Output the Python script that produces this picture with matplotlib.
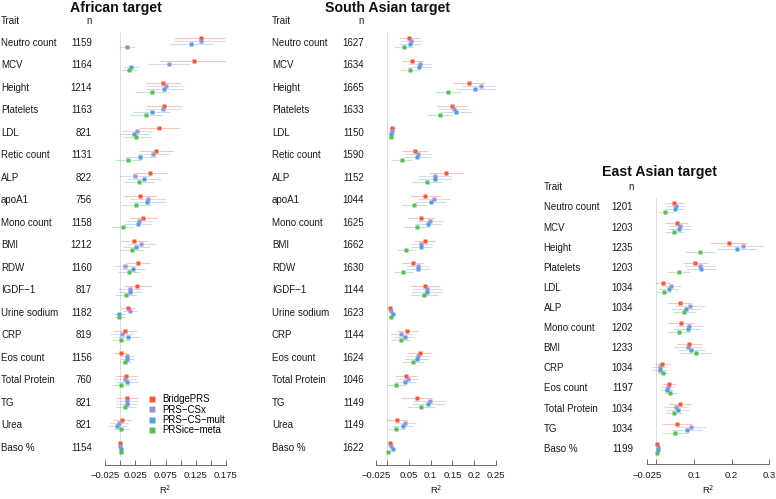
import matplotlib
matplotlib.use("Agg")
import matplotlib.pyplot as plt
from matplotlib.lines import Line2D
from matplotlib import transforms

plt.rcParams['font.family'] = ['Liberation Sans', 'DejaVu Sans']

W, H = 776, 499

methods = ["BridgePRS", "PRS\u2212CSx", "PRS\u2212CS\u2212mult", "PRSice\u2212meta"]
colors = ["#EE5A3D", "#9C93D0", "#5A9ED8", "#5CBB5C"]

# ---------------- African target ----------------
afr_traits = ["Neutro count", "MCV", "Height", "Platelets", "LDL", "Retic count", "ALP",
              "apoA1", "Mono count", "BMI", "RDW", "IGDF\u22121", "Urine sodium", "CRP",
              "Eos count", "Total Protein", "TG", "Urea", "Baso %"]
afr_n = [1159, 1164, 1214, 1163, 821, 1131, 822, 756, 1158, 1212, 1160, 817, 1182, 819,
         1156, 760, 821, 821, 1154]
afr_bridge = [0.134, 0.122, 0.071, 0.073, 0.064, 0.059, 0.0495, 0.033, 0.0385, 0.023, 0.030,
              0.0285, 0.013, 0.0087, 0.0015, 0.0098, 0.0114, 0.0026, 0.0]
afr_csx = [0.134, 0.081, 0.0755, 0.0705, 0.028, 0.055, 0.024, 0.0457, 0.031, 0.035, 0.008,
           0.016, 0.016, 0.0026, 0.012, 0.008, 0.011, -0.002, 0.0]
afr_csmult = [0.117, 0.018, 0.073, 0.052, 0.0225, 0.0335, 0.039, 0.045, 0.029, 0.027, 0.0214,
              0.016, -0.002, 0.0136, 0.011, 0.0114, 0.0106, -0.0046, 0.001]
afr_meta = [0.011, 0.015, 0.053, 0.042, 0.027, 0.013, 0.031, 0.026, 0.0053, 0.020, 0.0147,
            0.0098, -0.002, 0.002, 0.0087, 0.0015, 0.008, 0.002, 0.0015]
afr_bridge_hw = [0.045, 0.058, 0.03, 0.03, 0.033, 0.028, 0.028, 0.028, 0.022, 0.022, 0.02,
                 0.022, 0.012, 0.02, 0.012, 0.018, 0.018, 0.015, 0.004]
afr_csx_hw = [0.045, 0.035, 0.03, 0.03, 0.025, 0.025, 0.026, 0.03, 0.022, 0.022, 0.02,
              0.02, 0.012, 0.02, 0.012, 0.018, 0.018, 0.015, 0.004]
afr_csmult_hw = [0.036, 0.014, 0.03, 0.03, 0.025, 0.025, 0.028, 0.03, 0.022, 0.022, 0.02,
                 0.02, 0.01, 0.02, 0.012, 0.018, 0.018, 0.015, 0.004]
afr_meta_hw = [0.013, 0.013, 0.028, 0.028, 0.022, 0.022, 0.025, 0.025, 0.018, 0.02, 0.018,
               0.018, 0.008, 0.015, 0.01, 0.015, 0.016, 0.013, 0.004]
afr_ticks = [-0.025, 0, 0.025, 0.05, 0.075, 0.1, 0.125, 0.15, 0.175]
afr_ticklabels = ["\u22120.025", "", "0.025", "", "0.075", "", "0.125", "", "0.175"]

# ---------------- South Asian target ----------------
sas_traits = ["Neutro count", "MCV", "Height", "Platelets", "LDL", "Retic count", "ALP",
              "apoA1", "Mono count", "BMI", "RDW", "IGDF\u22121", "Urine sodium", "CRP",
              "Eos count", "Total Protein", "TG", "Urea", "Baso %"]
sas_n = [1627, 1634, 1665, 1633, 1150, 1590, 1152, 1044, 1625, 1662, 1630, 1144, 1623, 1144,
         1624, 1046, 1149, 1149, 1622]
sas_bridge = [0.051, 0.058, 0.189, 0.150, 0.0115, 0.065, 0.135, 0.088, 0.079, 0.086, 0.0585,
              0.087, 0.0055, 0.046, 0.0746, 0.043, 0.0677, 0.0224, 0.007]
sas_csx = [0.055, 0.075, 0.217, 0.154, 0.011, 0.072, 0.11, 0.108, 0.099, 0.079, 0.07,
           0.091, 0.0085, 0.032, 0.0715, 0.047, 0.0976, 0.041, 0.0085]
sas_csmult = [0.052, 0.073, 0.203, 0.159, 0.009, 0.068, 0.11, 0.1, 0.094, 0.079, 0.071,
              0.091, 0.0124, 0.04, 0.069, 0.0415, 0.095, 0.0354, 0.013]
sas_meta = [0.038, 0.053, 0.139, 0.121, 0.008, 0.033, 0.092, 0.0615, 0.068, 0.044, 0.037,
            0.085, 0.008, 0.031, 0.059, 0.02, 0.078, 0.0207, 0.003]
sas_bridge_hw = [0.024, 0.025, 0.037, 0.035, 0.008, 0.03, 0.039, 0.035, 0.03, 0.025, 0.025,
                 0.035, 0.006, 0.025, 0.028, 0.025, 0.035, 0.025, 0.006]
sas_csx_hw = [0.025, 0.027, 0.045, 0.037, 0.008, 0.03, 0.04, 0.037, 0.03, 0.025, 0.027,
              0.035, 0.006, 0.025, 0.028, 0.025, 0.037, 0.025, 0.006]
sas_csmult_hw = [0.025, 0.027, 0.045, 0.037, 0.008, 0.03, 0.04, 0.035, 0.03, 0.025, 0.027,
                 0.035, 0.006, 0.025, 0.028, 0.025, 0.037, 0.025, 0.006]
sas_meta_hw = [0.022, 0.022, 0.03, 0.03, 0.007, 0.025, 0.035, 0.03, 0.03, 0.022, 0.022,
               0.033, 0.005, 0.022, 0.025, 0.022, 0.033, 0.02, 0.005]
sas_ticks = [-0.025, 0, 0.05, 0.1, 0.15, 0.2, 0.25]
sas_ticklabels = ["\u22120.025", "", "0.05", "0.1", "0.15", "0.2", "0.25"]

# ---------------- East Asian target ----------------
eas_traits = ["Neutro count", "MCV", "Height", "Platelets", "LDL", "ALP", "Mono count",
              "BMI", "CRP", "Eos count", "Total Protein", "TG", "Baso %"]
eas_n = [1201, 1203, 1235, 1203, 1034, 1034, 1202, 1233, 1034, 1197, 1034, 1034, 1199]
eas_bridge = [0.047, 0.054, 0.192, 0.1035, 0.0167, 0.063, 0.0654, 0.0875, 0.015, 0.0335,
              0.062, 0.055, 0.001]
eas_csx = [0.051, 0.063, 0.230, 0.116, 0.0397, 0.0886, 0.086, 0.083, 0.0088, 0.031,
           0.051, 0.092, 0.005]
eas_csmult = [0.0487, 0.06, 0.2135, 0.1186, 0.0327, 0.0787, 0.083, 0.093, 0.0088, 0.028,
              0.0566, 0.082, 0.004]
eas_meta = [0.024, 0.048, 0.117, 0.059, 0.0194, 0.0742, 0.060, 0.1045, 0.0167, 0.037,
            0.047, 0.050, 0.001]
eas_bridge_hw = [0.026, 0.03, 0.05, 0.033, 0.02, 0.031, 0.035, 0.033, 0.02, 0.018, 0.03,
                 0.04, 0.004]
eas_csx_hw = [0.026, 0.03, 0.053, 0.04, 0.025, 0.04, 0.035, 0.035, 0.02, 0.018, 0.03,
              0.04, 0.004]
eas_csmult_hw = [0.026, 0.03, 0.053, 0.04, 0.025, 0.04, 0.035, 0.035, 0.02, 0.018, 0.03,
                 0.04, 0.004]
eas_meta_hw = [0.02, 0.025, 0.04, 0.03, 0.02, 0.03, 0.03, 0.038, 0.015, 0.018, 0.025,
               0.035, 0.004]
eas_ticks = [-0.025, 0, 0.1, 0.2, 0.3]
eas_ticklabels = ["\u22120.025", "", "0.1", "0.2", "0.3"]

fig = plt.figure(figsize=(W / 100, H / 100), dpi=100)

offsets_px = [-4.7, -1.7, 1.3, 4.3]


def panel(title, title_x, title_y, header_y, traits, ns, series, hws, ticks, ticklabels,
          ax_left, ax_right, ax_top, ax_bottom, row0, step, trait_x, n_x):
    ax = fig.add_axes([ax_left / W, 1 - ax_bottom / H, (ax_right - ax_left) / W,
                       (ax_bottom - ax_top) / H])
    ax.set_facecolor('none')
    nrow = len(traits)
    ax.set_xlim(ticks[0], ticks[-1])
    ax.set_ylim((ax_bottom - row0) / step, (ax_top - row0) / step)
    ax.vlines(0, -0.5, nrow - 0.6, color='#DCDCDC', lw=0.7, zorder=0)
    for j in range(4):
        vals = series[j]
        hw = hws[j]
        for i in range(nrow):
            y = i + offsets_px[j] / step
            ax.hlines(y, vals[i] - hw[i], vals[i] + hw[i], color=colors[j], alpha=0.35, lw=0.8)
            ax.plot(vals[i], y, 's', ms=2.3, color=colors[j], mec='none')
    for s in ['top', 'right', 'left']:
        ax.spines[s].set_visible(False)
    ax.spines['bottom'].set_bounds(ticks[0], ticks[-1])
    ax.spines['bottom'].set_color('#555555')
    ax.spines['bottom'].set_linewidth(0.6)
    ax.set_yticks([])
    ax.set_xticks(ticks)
    ax.set_xticklabels(ticklabels)
    ax.tick_params(axis='x', direction='in', length=3.8, width=0.6, color='#555555',
                   labelsize=6.8, pad=5, labelcolor='#1a1a1a')
    ax.set_xlabel("R$^2$", fontsize=6.8, labelpad=2, color='#1a1a1a')
    tr = transforms.blended_transform_factory(fig.transFigure, ax.transData)
    for i in range(nrow):
        ax.text(trait_x / W, i, traits[i], transform=tr, ha='left', va='center',
                fontsize=7, color='#1a1a1a', clip_on=False)
        ax.text(n_x / W, i, str(ns[i]), transform=tr, ha='right', va='center',
                fontsize=7, color='#1a1a1a', clip_on=False)
    fig.text(trait_x / W, 1 - header_y / H, "Trait", ha='left', va='center', fontsize=7,
             color='#1a1a1a')
    fig.text(n_x / W, 1 - header_y / H, "n", ha='right', va='center', fontsize=7,
             color='#1a1a1a')
    fig.text(title_x / W, 1 - title_y / H, title, ha='center', va='baseline', fontsize=10.2,
             fontweight='bold', color='#111111')
    return ax


ax1 = panel("African target", 115.7, 12, 21,
            afr_traits, afr_n, [afr_bridge, afr_csx, afr_csmult, afr_meta],
            [afr_bridge_hw, afr_csx_hw, afr_csmult_hw, afr_meta_hw],
            afr_ticks, afr_ticklabels, 105, 226, 30, 464.5, 43.0, 22.48, 1, 91.7)

ax2 = panel("South Asian target", 387.2, 12, 21,
            sas_traits, sas_n, [sas_bridge, sas_csx, sas_csmult, sas_meta],
            [sas_bridge_hw, sas_csx_hw, sas_csmult_hw, sas_meta_hw],
            sas_ticks, sas_ticklabels, 376.3, 495.8, 30, 464.5, 43.0, 22.48, 272, 363.7)

ax3 = panel("East Asian target", 659.3, 176, 187.3,
            eas_traits, eas_n, [eas_bridge, eas_csx, eas_csmult, eas_meta],
            [eas_bridge_hw, eas_csx_hw, eas_csmult_hw, eas_meta_hw],
            eas_ticks, eas_ticklabels, 647, 769.2, 190, 464.3, 207.5, 20.11, 543.7, 633.3)

handles = [Line2D([], [], marker='s', ls='', color=c, mec='none', markersize=4.6)
           for c in colors]
fig.legend(handles, methods, loc='upper left', bbox_to_anchor=(148.5 / W, 1 - 394.5 / H),
           frameon=False, fontsize=6.9, handlelength=0.8, handletextpad=0.6,
           labelspacing=0.02, borderpad=0, borderaxespad=0)

fig.savefig("out.png", dpi=100)
